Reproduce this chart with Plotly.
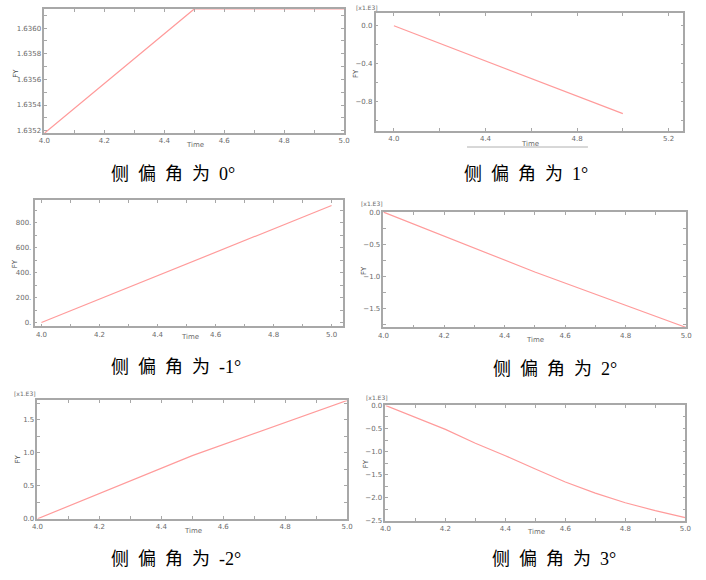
import plotly.graph_objects as go

W, H = 706, 580

# ---------------- data ----------------
t_p1 = [4.0, 4.5, 5.0]
fy_p1 = [1.63518, 1.63615, 1.63615]

t_p2 = [4.0, 5.0]
fy_p2 = [0.0, -0.925]

t_p3 = [4.0, 5.0]
fy_p3 = [0.0, 940.0]

t_p4 = [4.0, 4.5, 5.0]
fy_p4 = [0.0, -0.93, -1.79]

t_p5 = [4.0, 4.5, 5.0]
fy_p5 = [0.0, 0.955, 1.79]

t_p6 = [4.0, 4.1, 4.2, 4.3, 4.4, 4.5, 4.6, 4.7, 4.8, 4.9, 5.0]
fy_p6 = [0.0, -0.26, -0.52, -0.82, -1.09, -1.38, -1.66, -1.90, -2.11, -2.28, -2.43]

captions = ["侧 偏 角 为 0°", "侧 偏 角 为 1°", "侧 偏 角 为 -1°",
            "侧 偏 角 为 2°", "侧 偏 角 为 -2°", "侧 偏 角 为 3°"]

# ---------------- layout helpers ----------------
def px_x(v):
    return v / W

def px_y(v):
    return 1 - v / H

LINE = "#ff9b9b"
FRAME = "#a8a8a8"
TICKC = "#6a6a6a"
TICKFONT = dict(family="DejaVu Sans", size=7, color=TICKC)

panels = [
    dict(t=t_p1, y=fy_p1, box=(39, 344, 5, 131), xr=[4.0, 5.0], yr=[1.63518, 1.63615],
         xd=0.2, yd=0.0002, xm=0.1, ym=0.0001, yfmt=".4f", ysuf="", x0t=4.0, y0t=1.6352),
    dict(t=t_p2, y=fy_p2, box=(376, 689, 9, 129), xr=[3.92, 5.264], yr=[-1.11, 0.135],
         xd=0.4, yd=0.4, xm=0.2, ym=0.2, yfmt=".1f", ysuf="", x0t=4.0, y0t=0.0),
    dict(t=t_p3, y=fy_p3, box=(29, 343, 199, 327), xr=[3.976, 5.04], yr=[-32, 982],
         xd=0.2, yd=200, xm=0.1, ym=100, yfmt=".0f", ysuf=".", x0t=4.0, y0t=0),
    dict(t=t_p4, y=fy_p4, box=(384, 692, 211, 328), xr=[4.0, 5.0], yr=[-1.79, 0.0],
         xd=0.2, yd=0.5, xm=0.1, ym=0.25, yfmt=".1f", ysuf="", x0t=4.0, y0t=0.0),
    dict(t=t_p5, y=fy_p5, box=(32, 347, 402, 522), xr=[4.0, 5.0], yr=[0.0, 1.79],
         xd=0.2, yd=0.5, xm=0.1, ym=0.25, yfmt=".1f", ysuf="", x0t=4.0, y0t=0.0),
    dict(t=t_p6, y=fy_p6, box=(386, 691, 407, 524), xr=[4.0, 5.0], yr=[-2.5, 0.0],
         xd=0.2, yd=0.5, xm=0.1, ym=0.25, yfmt=".1f", ysuf="", x0t=4.0, y0t=0.0),
]

# label positions (centres) in px
time_pos = [(192, 143), (533, 142), (187, 338), (538, 341), (190, 534), (539, 535)]
fy_pos = [(10, 70), (356, 70), (10, 263), (364, 270), (12, 461), (366, 466)]
exp_pos = [(354, 4), (359, 202), (6, 395), (364, 399)]
cap_pos = [(170, 172), (529, 172), (173, 368), (558, 370), (173, 563), (557, 563)]

fig = go.Figure()
layout = dict(width=W, height=H, margin=dict(l=0, r=0, t=0, b=0),
              paper_bgcolor="white", plot_bgcolor="white", showlegend=False)
annotations = []

for i, p in enumerate(panels):
    n = "" if i == 0 else str(i + 1)
    fig.add_trace(go.Scatter(x=p["t"], y=p["y"], mode="lines",
                             line=dict(color=LINE, width=1.2),
                             xaxis="x" + n, yaxis="y" + n, cliponaxis=False))
    x0, x1, y0, y1 = p["box"]
    layout["xaxis" + n] = dict(
        domain=[px_x(x0), px_x(x1)], range=p["xr"], anchor="y" + n,
        showgrid=False, zeroline=False, showline=True, linecolor=FRAME, linewidth=1.5,
        mirror="allticks", ticks="inside", ticklen=3, tickcolor=FRAME,
        tick0=p["x0t"], dtick=p["xd"], tickformat=".1f", tickfont=TICKFONT,
        ticklabelstandoff=0,
        minor=dict(ticks="inside", dtick=p["xm"], ticklen=3, tickcolor=FRAME),
    )
    layout["yaxis" + n] = dict(
        domain=[px_y(y1), px_y(y0)], range=p["yr"], anchor="x" + n,
        showgrid=False, zeroline=False, showline=True, linecolor=FRAME, linewidth=1.5,
        mirror="allticks", ticks="inside", ticklen=3, tickcolor=FRAME,
        tick0=p["y0t"], dtick=p["yd"], tickformat=p["yfmt"], ticksuffix=p["ysuf"],
        tickfont=TICKFONT, ticklabelstandoff=0,
        minor=dict(ticks="inside", dtick=p["ym"], ticklen=3, tickcolor=FRAME),
    )
    tx, ty = time_pos[i]
    annotations.append(dict(text="Time", x=px_x(tx), y=px_y(ty), xref="paper", yref="paper",
                            xanchor="center", yanchor="middle", showarrow=False,
                            font=dict(family="DejaVu Sans", size=7, color=TICKC)))
    fx, fyy = fy_pos[i]
    annotations.append(dict(text="FY", x=px_x(fx), y=px_y(fyy), xref="paper", yref="paper",
                            xanchor="center", yanchor="middle", showarrow=False, textangle=-90,
                            font=dict(family="DejaVu Sans", size=7, color="#4a4a4a")))
    cx, cy = cap_pos[i]
    annotations.append(dict(text=captions[i].replace(" ", "\u00a0\u00a0"), x=px_x(cx), y=px_y(cy),
                            xref="paper", yref="paper", xanchor="center", yanchor="middle",
                            showarrow=False,
                            font=dict(family="Liberation Serif, Noto Sans CJK SC", size=18, color="black")))

for ex, ey in exp_pos:
    annotations.append(dict(text="[x1.E3]", x=px_x(ex), y=px_y(ey), xref="paper", yref="paper",
                            xanchor="left", yanchor="middle", showarrow=False,
                            font=dict(family="DejaVu Sans", size=6, color=TICKC)))

layout["annotations"] = annotations
layout["shapes"] = [dict(type="line", xref="paper", yref="paper",
                         x0=px_x(469), x1=px_x(592), y0=px_y(145), y1=px_y(145),
                         line=dict(color="#b0b0b0", width=1))]
fig.update_layout(**layout)
fig.write_html("out.html", config={"displayModeBar": False},
               post_script="document.body.style.margin='0';")
